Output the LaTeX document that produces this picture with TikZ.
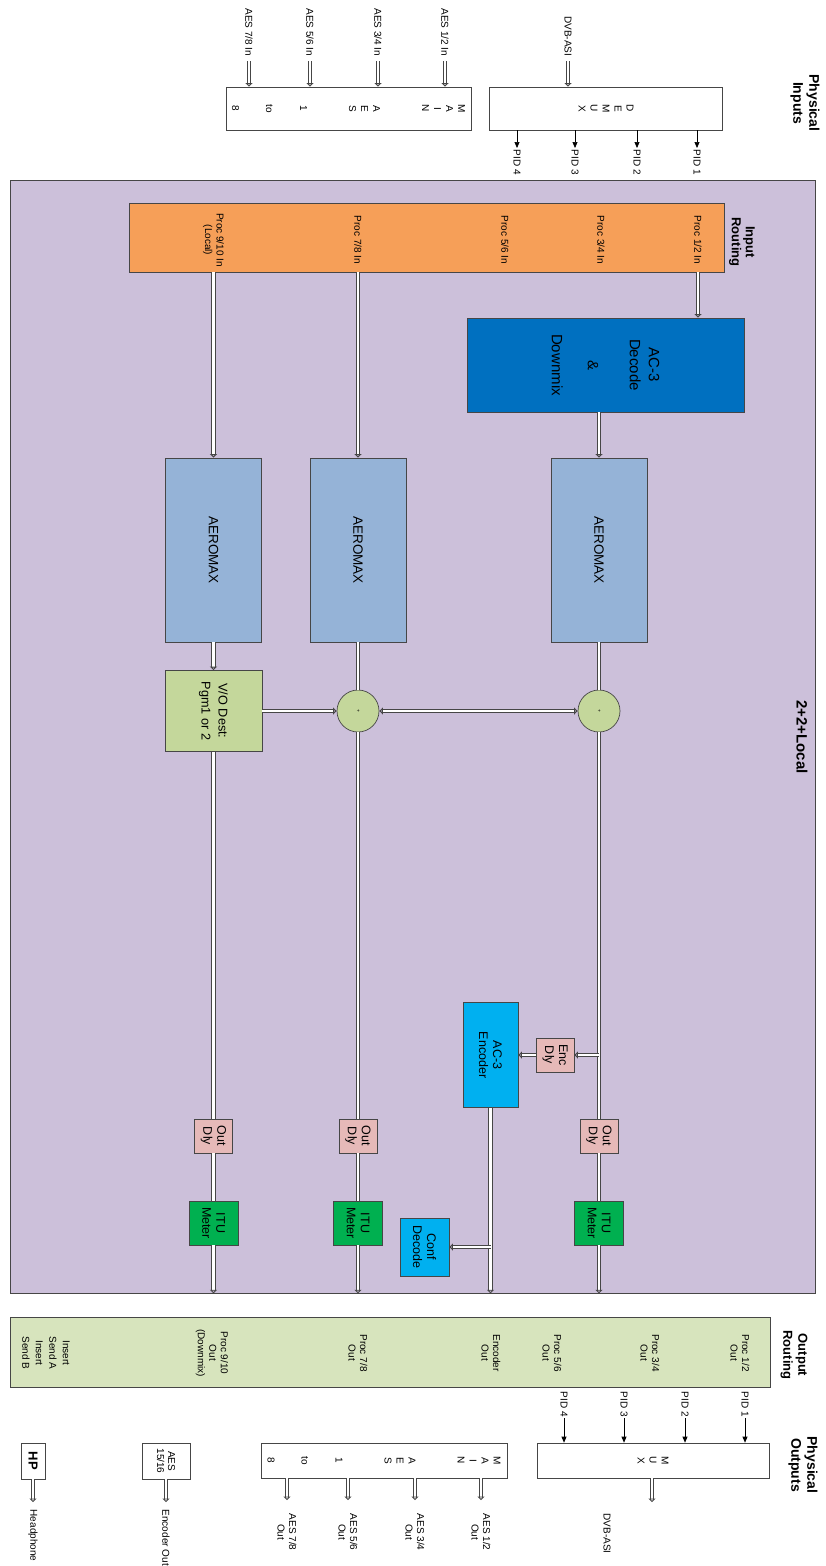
\documentclass[tikz,border=0pt]{standalone}
\usepackage{fontspec}
\setmainfont{Liberation Sans}
\usetikzlibrary{arrows.meta}

\definecolor{corebg}{RGB}{204,192,218}
\definecolor{inroute}{RGB}{246,159,88}
\definecolor{decblue}{RGB}{0,112,192}
\definecolor{aeroblue}{RGB}{149,179,215}
\definecolor{sumgreen}{RGB}{196,215,155}
\definecolor{dlypink}{RGB}{230,185,184}
\definecolor{itugreen}{RGB}{0,176,80}
\definecolor{encblue}{RGB}{0,176,240}
\definecolor{outroute}{RGB}{215,228,189}
\definecolor{edge}{RGB}{70,70,70}

\tikzset{
  box/.style={draw=edge, line width=0.7pt, inner sep=1pt, align=center},
  lbl/.style={font=\fontsize{10}{11.5}\selectfont, align=center, inner sep=1.5pt},
  head/.style={font=\bfseries\fontsize{14}{16}\selectfont, align=center, inner sep=0pt},
  feed/.style={draw=edge, line width=1pt, double=white, double distance=2.6pt,
    >={Triangle[open,length=3.5pt,width=7pt]}, ->},
  pidarrow/.style={draw=black, line width=0.7pt, >={Triangle[length=6pt,width=5pt]}, ->},
}

\begin{document}
\begin{tikzpicture}[x=1pt, y=1pt, rotate=-90, transform shape]
\useasboundingbox (0,0) rectangle (1566,826);

% physical inputs
\node[head] (physin) at (103,805) {Physical\\Inputs};
\node[box, fill=white, minimum width=43, minimum height=245] (aesin) at (108.5,348.5)
  {\fontsize{10}{10.3}\selectfont M\\A\\I\\N\\[37pt]A\\E\\S\\[37pt]1\\[22pt]to\\[22pt]8};
\node[box, fill=white, minimum width=43, minimum height=233] (demux) at (108.5,606)
  {\fontsize{10}{11.5}\selectfont D\\E\\M\\U\\X};
\node[lbl, anchor=east] (ain12) at (58,445) {AES 1/2 In};
\node[lbl, anchor=east] (ain34) at (58,378) {AES 3/4 In};
\node[lbl, anchor=east] (ain56) at (58,310) {AES 5/6 In};
\node[lbl, anchor=east] (ain78) at (58,249) {AES 7/8 In};
\node[lbl, anchor=east] (asiin) at (58,568) {DVB-ASI};
\foreach \n in {ain12,ain34,ain56,ain78,asiin}
  \draw[feed, shorten <=3pt] (\n) -- (aesin.west |- \n);
\node[lbl, anchor=west] (pin1) at (148,697) {PID 1};
\node[lbl, anchor=west] (pin2) at (148,637) {PID 2};
\node[lbl, anchor=west] (pin3) at (148,575) {PID 3};
\node[lbl, anchor=west] (pin4) at (148,517) {PID 4};
\foreach \n in {pin1,pin2,pin3,pin4}
  \draw[pidarrow] (demux.east |- \n) -- (\n);

% processing core
\node[draw=edge, fill=corebg, line width=0.7pt, minimum width=1113, minimum height=805, inner sep=0] (core) at (736.5,412.5) {};
\node[head, font=\bfseries\fontsize{15}{17}\selectfont] (corename) at (737,802) {2+2+Local};
\node[box, fill=inroute, minimum width=69, minimum height=595] (inrt) at (237.5,426.5) {};
\node[head, font=\bfseries\fontsize{13}{14}\selectfont] (inrtname) at (242,742) {Input\\Routing};
\node[lbl] (pi12) at (240,698) {Proc 1/2 In};
\node[lbl] (pi34) at (240,601) {Proc 3/4 In};
\node[lbl] (pi56) at (240,505) {Proc 5/6 In};
\node[lbl] (pi78) at (240,358) {Proc 7/8 In};
\node[lbl] (pi910) at (240,213.5) {Proc 9/10 In\\(Local)};

\node[box, fill=decblue, minimum width=94, minimum height=277,
  font=\fontsize{15}{17}\selectfont] (ac3dec) at (365,605.5) {AC-3\\[2pt]Decode\\[25pt]\&\\[19pt]Downmix};
\node[box, fill=aeroblue, minimum width=184, minimum height=96, font=\fontsize{13.5}{15}\selectfont] (aero1) at (550,599) {AEROMAX};
\node[box, fill=aeroblue, minimum width=184, minimum height=96, font=\fontsize{13.5}{15}\selectfont] (aero2) at (550,358) {AEROMAX};
\node[box, fill=aeroblue, minimum width=184, minimum height=96, font=\fontsize{13.5}{15}\selectfont] (aero3) at (550,213.5) {AEROMAX};
\node[circle, draw=edge, fill=sumgreen, line width=0.7pt, minimum size=42, inner sep=0,
  font=\fontsize{5}{5}\selectfont] (sum1) at (711,599) {+};
\node[circle, draw=edge, fill=sumgreen, line width=0.7pt, minimum size=42, inner sep=0,
  font=\fontsize{5}{5}\selectfont] (sum2) at (711,358) {+};
\node[box, fill=sumgreen, minimum width=81, minimum height=97,
  font=\fontsize{12.7}{17}\selectfont] (vo) at (711,213.5) {V/O Dest:\\Pgm1 or 2};

\draw[feed] (inrt.east |- pi12) -- (ac3dec.west |- pi12);
\draw[feed] (ac3dec.east |- aero1) -- (aero1);
\draw[feed] (inrt.east |- aero2) -- (aero2);
\draw[feed] (inrt.east |- aero3) -- (aero3);
\draw[feed, -] (aero1) -- (sum1);
\draw[feed, -] (aero2) -- (sum2);
\draw[feed] (aero3) -- (vo);
\draw[feed] (vo) -- (sum2);
\draw[feed, <->] (sum2) -- (sum1);

% delays, meters, encoder
\node[box, fill=dlypink, minimum width=34, minimum height=38, font=\fontsize{12.5}{14}\selectfont] (edly) at (1055,555) {Enc\\Dly};
\node[box, fill=encblue, minimum width=105, minimum height=55, font=\fontsize{12.5}{14}\selectfont] (ac3enc) at (1055,490.5) {AC-3\\Encoder};
\node[box, fill=encblue, minimum width=58, minimum height=49, font=\fontsize{12.5}{14}\selectfont] (conf) at (1247,424.5) {Conf\\Decode};
\foreach \c/\y in {1/599,2/358,3/213.5} {
  \node[box, fill=dlypink, minimum width=34, minimum height=38, font=\fontsize{12.5}{14}\selectfont] (odly\c) at (1136,\y) {Out\\Dly};
  \node[box, fill=itugreen, minimum width=44, minimum height=49, font=\fontsize{12.5}{14}\selectfont] (itu\c) at (1223,\y) {ITU\\Meter};
  \draw[feed, -] (odly\c) -- (itu\c);
  \draw[feed] (itu\c) -- (core.east |- itu\c);
}
\draw[feed, -] (sum1) -- (odly1);
\draw[feed, -] (sum2) -- (odly2);
\draw[feed, -] (vo) -- (odly3);
\draw[feed] (edly |- sum1) -- (edly);
\draw[feed] (edly) -- (ac3enc);
\draw[feed] (ac3enc) -- (core.east |- ac3enc);
\draw[feed] (conf |- ac3enc) -- (conf);

% output routing
\node[box, fill=outroute, minimum width=70, minimum height=760] (outrt) at (1352,390) {};
\node[head, font=\bfseries\fontsize{13}{15}\selectfont] (outrtname) at (1355,794) {Output\\Routing};
\node[lbl] (po12) at (1353,740) {Proc 1/2\\Out};
\node[lbl] (po34) at (1353,650) {Proc 3/4\\Out};
\node[lbl] (po56) at (1353,552) {Proc 5/6\\Out};
\node[lbl] (poenc) at (1353,491) {Encoder\\Out};
\node[lbl] (po78) at (1353,358) {Proc 7/8\\Out};
\node[lbl] (po910) at (1353,212) {Proc 9/10\\Out\\(Downmix)};
\node[lbl, font=\fontsize{10}{13.5}\selectfont] (pins) at (1353,46) {Insert\\Send A\\Insert\\Send B};

% physical outputs
\node[head] (physout) at (1465,803) {Physical\\Outputs};
\node[box, fill=white, minimum width=35, minimum height=232] (mux) at (1460.5,653)
  {\fontsize{10}{10.3}\selectfont M\\U\\X};
\node[lbl, anchor=west] (pout1) at (1390,745) {PID 1};
\node[lbl, anchor=west] (pout2) at (1390,685) {PID 2};
\node[lbl, anchor=west] (pout3) at (1390,624) {PID 3};
\node[lbl, anchor=west] (pout4) at (1390,564) {PID 4};
\foreach \n in {pout1,pout2,pout3,pout4}
  \draw[pidarrow] (\n) -- (mux.west |- \n);
\coordinate (asiend) at (1502,652);
\draw[feed] (mux.east |- asiend) -- (asiend);
\node[lbl, anchor=west] (asiout) at (1512,607) {DVB-ASI};

\node[box, fill=white, minimum width=35, minimum height=246] (aesout) at (1460.5,384)
  {\fontsize{10}{10.3}\selectfont M\\A\\I\\N\\[37pt]A\\E\\S\\[37pt]1\\[22pt]to\\[22pt]8};
\node[lbl, anchor=west] (aout12) at (1512,481) {AES 1/2\\Out};
\node[lbl, anchor=west] (aout34) at (1512,415) {AES 3/4\\Out};
\node[lbl, anchor=west] (aout56) at (1512,348) {AES 5/6\\Out};
\node[lbl, anchor=west] (aout78) at (1512,287) {AES 7/8\\Out};
\foreach \n in {aout12,aout34,aout56,aout78}
  \draw[feed, shorten >=12pt] (aesout.east |- \n) -- (\n.west);

\node[box, fill=white, minimum width=36, minimum height=48, font=\fontsize{10}{11}\selectfont] (aes1516) at (1461,166) {AES\\15/16};
\node[box, fill=white, minimum width=36, minimum height=24, font=\bfseries\fontsize{13}{14}\selectfont] (hp) at (1461,33) {HP};
\node[lbl, anchor=west] (encout) at (1508,166) {Encoder Out};
\node[lbl, anchor=west] (hpout) at (1508,33) {Headphone};
\draw[feed, shorten >=6pt] (aes1516) -- (encout.west);
\draw[feed, shorten >=6pt] (hp) -- (hpout.west);
\end{tikzpicture}
\end{document}
